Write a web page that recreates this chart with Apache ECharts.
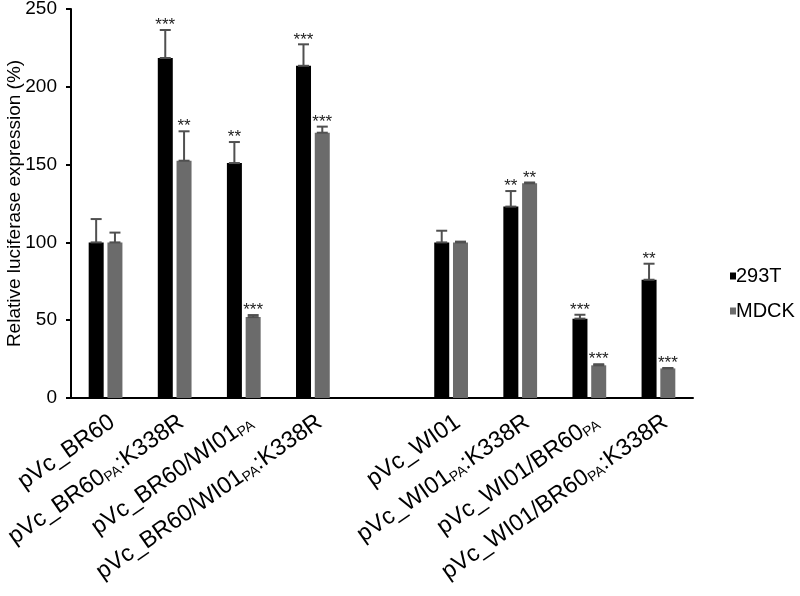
<!DOCTYPE html>
<html>
<head>
<meta charset="utf-8">
<script src="https://cdn.jsdelivr.net/npm/echarts@6/dist/echarts.min.js"></script>
<style>html,body{margin:0;padding:0;background:#fff;}#c{width:800px;height:596px;}</style>
</head>
<body>
<div id="c"></div>
<script>
// Categories (an empty slot separates the two groups); "{sub|PA}" marks subscript text
var categories = [
  'pVc_BR60',
  'pVc_BR60{sub|PA}:K338R',
  'pVc_BR60/WI01{sub|PA}',
  'pVc_BR60/WI01{sub|PA}:K338R',
  '',
  'pVc_WI01',
  'pVc_WI01{sub|PA}:K338R',
  'pVc_WI01/BR60{sub|PA}',
  'pVc_WI01/BR60{sub|PA}:K338R'
];
var seriesNames = ['293T', 'MDCK'];
var values293T = [100, 218.5, 151, 213.5, null, 100, 123, 51, 76];
var valuesMDCK = [100, 152.5, 52, 170.5, null, 100, 138, 21, 19];
var errTop293T = [115, 236.5, 164.5, 227.3, null, 107.5, 133, 53.5, 86.3];
var errTopMDCK = [106.3, 171.4, 53.3, 174.4, null, 100.5, 138.5, 21.7, 19.3];
var stars293T = ['', '***', '**', '***', '', '', '**', '***', '**'];
var starsMDCK = ['', '**', '***', '***', '', '', '**', '***', '***'];
var yTicks = [0, 50, 100, 150, 200, 250];

var COL_BLACK = '#000000';
var COL_GREY = '#6b6b6b';
var COL_ERR = '#505050';
var BAR_OFFSET = 9.4;
var FONT = '"Liberation Sans", Arial, sans-serif';

function errData(vals, tops) {
  return vals.map(function (v, i) {
    return v == null ? [i, '-', '-'] : [i, v, tops[i]];
  });
}

function errRenderer(offset, vals, tops, stars) {
  return function (params, api) {
    var i = params.dataIndex;
    var v = vals[i];
    if (v == null) return;
    var top = tops[i];
    var star = stars[i];
    var pBase = api.coord([i, v]);
    var pTop = api.coord([i, top]);
    var x = pBase[0] + offset;
    var half = 5.5;
    var style = { stroke: COL_ERR, lineWidth: 2 };
    var children = [
      { type: 'line', shape: { x1: x, y1: pBase[1], x2: x, y2: pTop[1] }, style: style },
      { type: 'line', shape: { x1: x - half, y1: pTop[1], x2: x + half, y2: pTop[1] }, style: style },
      { type: 'line', shape: { x1: x - half, y1: pBase[1], x2: x + half, y2: pBase[1] }, style: style }
    ];
    if (star) {
      children.push({
        type: 'text',
        x: x, y: pTop[1] + 4,
        style: {
          text: star,
          align: 'center', verticalAlign: 'bottom',
          fontFamily: FONT, fontSize: 17, fill: '#222'
        }
      });
    }
    return { type: 'group', children: children };
  };
}

var chart = echarts.init(document.getElementById('c'), null, { renderer: 'canvas' });
chart.setOption({
  animation: false,
  backgroundColor: '#fff',
  grid: { left: 71, right: 107, top: 9, bottom: 198, containLabel: false, outerBoundsMode: 'none' },
  legend: {
    orient: 'vertical', left: 725, top: 261, itemWidth: 6, itemHeight: 7, itemGap: 15,
    icon: 'rect',
    data: seriesNames,
    textStyle: { fontFamily: FONT, fontSize: 20, color: '#000', padding: [0, 0, 0, -5] }
  },
  xAxis: {
    type: 'category', data: categories,
    axisLine: { lineStyle: { color: '#000', width: 2 } },
    axisTick: { show: false },
    axisLabel: {
      interval: 0, rotate: 35, margin: 12, align: 'right', verticalAlign: 'top',
      fontFamily: FONT, fontSize: 23.5, color: '#000',
      rich: { sub: { fontFamily: FONT, fontSize: 14, verticalAlign: 'bottom', padding: [7, 0, 0, 0], color: '#000' } }
    }
  },
  yAxis: {
    type: 'value', min: 0, max: 250, interval: 50,
    name: 'Relative luciferase expression (%)', nameLocation: 'middle', nameGap: 47,
    nameMoveOverlap: false,
    nameTextStyle: { fontFamily: FONT, fontSize: 19, color: '#000' },
    axisLine: { show: true, lineStyle: { color: '#000', width: 2 } },
    axisTick: { show: true, length: 5, lineStyle: { color: '#000', width: 2 } },
    axisLabel: { fontFamily: FONT, fontSize: 19, color: '#000', margin: 14,
      formatter: function (v) { return yTicks.indexOf(v) >= 0 ? String(v) : ''; } },
    splitLine: { show: false }
  },
  series: [
    { name: seriesNames[0], type: 'bar', data: values293T, barWidth: 15, barGap: '25%',
      itemStyle: { color: COL_BLACK } },
    { name: seriesNames[1], type: 'bar', data: valuesMDCK, barWidth: 15, barGap: '25%',
      itemStyle: { color: COL_GREY } },
    { name: 'err293T', type: 'custom', renderItem: errRenderer(-BAR_OFFSET, values293T, errTop293T, stars293T),
      data: errData(values293T, errTop293T), z: 5, silent: true },
    { name: 'errMDCK', type: 'custom', renderItem: errRenderer(BAR_OFFSET, valuesMDCK, errTopMDCK, starsMDCK),
      data: errData(valuesMDCK, errTopMDCK), z: 5, silent: true }
  ]
});
</script>
</body>
</html>
